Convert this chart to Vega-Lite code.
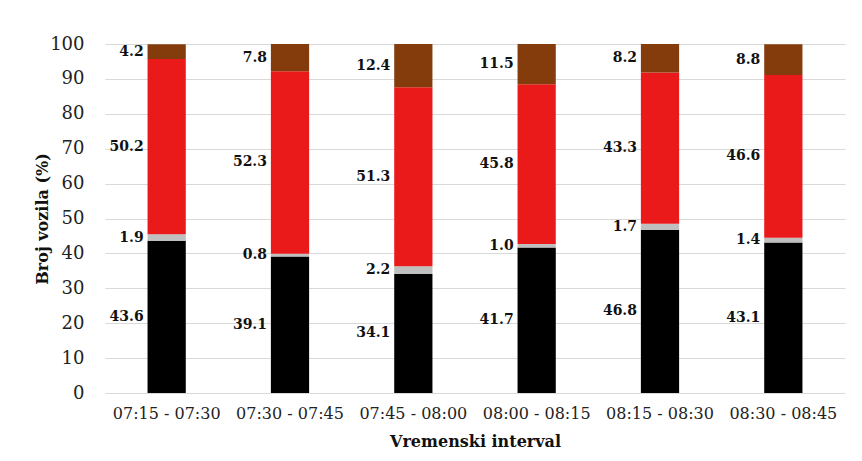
{
  "$schema": "https://vega.github.io/schema/vega-lite/v6.json",
  "autosize": "none",
  "width": 740,
  "height": 349,
  "padding": {"left": 105, "top": 44, "right": 17, "bottom": 68},
  "background": "white",
  "config": {
    "view": {"stroke": null},
    "font": "DejaVu Serif"
  },
  "data": {
    "values": [
      {"interval": "07:15 - 07:30", "kat": "A", "ord": 1, "v": 43.6},
      {"interval": "07:15 - 07:30", "kat": "B", "ord": 2, "v": 1.9},
      {"interval": "07:15 - 07:30", "kat": "C", "ord": 3, "v": 50.2},
      {"interval": "07:15 - 07:30", "kat": "D", "ord": 4, "v": 4.2},
      {"interval": "07:30 - 07:45", "kat": "A", "ord": 1, "v": 39.1},
      {"interval": "07:30 - 07:45", "kat": "B", "ord": 2, "v": 0.8},
      {"interval": "07:30 - 07:45", "kat": "C", "ord": 3, "v": 52.3},
      {"interval": "07:30 - 07:45", "kat": "D", "ord": 4, "v": 7.8},
      {"interval": "07:45 - 08:00", "kat": "A", "ord": 1, "v": 34.1},
      {"interval": "07:45 - 08:00", "kat": "B", "ord": 2, "v": 2.2},
      {"interval": "07:45 - 08:00", "kat": "C", "ord": 3, "v": 51.3},
      {"interval": "07:45 - 08:00", "kat": "D", "ord": 4, "v": 12.4},
      {"interval": "08:00 - 08:15", "kat": "A", "ord": 1, "v": 41.7},
      {"interval": "08:00 - 08:15", "kat": "B", "ord": 2, "v": 1.0},
      {"interval": "08:00 - 08:15", "kat": "C", "ord": 3, "v": 45.8},
      {"interval": "08:00 - 08:15", "kat": "D", "ord": 4, "v": 11.5},
      {"interval": "08:15 - 08:30", "kat": "A", "ord": 1, "v": 46.8},
      {"interval": "08:15 - 08:30", "kat": "B", "ord": 2, "v": 1.7},
      {"interval": "08:15 - 08:30", "kat": "C", "ord": 3, "v": 43.3},
      {"interval": "08:15 - 08:30", "kat": "D", "ord": 4, "v": 8.2},
      {"interval": "08:30 - 08:45", "kat": "A", "ord": 1, "v": 43.1},
      {"interval": "08:30 - 08:45", "kat": "B", "ord": 2, "v": 1.4},
      {"interval": "08:30 - 08:45", "kat": "C", "ord": 3, "v": 46.6},
      {"interval": "08:30 - 08:45", "kat": "D", "ord": 4, "v": 8.8}
    ]
  },
  "transform": [
    {"stack": "v", "groupby": ["interval"], "sort": [{"field": "ord", "order": "ascending"}], "as": ["y0", "y1"]},
    {"calculate": "(datum.y0 + datum.y1) / 2", "as": "mid"}
  ],
  "encoding": {
    "x": {
      "field": "interval",
      "type": "nominal",
      "sort": null,
      "scale": {"paddingInner": 0.69, "paddingOuter": 0.345},
      "axis": {
        "title": "Vremenski interval",
        "labelAngle": 0,
        "labelFont": "DejaVu Serif",
        "labelFontSize": 16,
        "labelColor": "#222222",
        "labelPadding": 12,
        "ticks": false,
        "domain": false,
        "titleFont": "DejaVu Serif",
        "titleFontSize": 16,
        "titleFontWeight": "bold",
        "titleColor": "#111111",
        "titlePadding": 12
      }
    }
  },
  "layer": [
    {
      "mark": {"type": "bar"},
      "encoding": {
        "y": {
          "field": "y0",
          "type": "quantitative",
          "scale": {"domain": [0, 100], "nice": false},
          "axis": {
            "title": "Broj vozila (%)",
            "values": [0, 10, 20, 30, 40, 50, 60, 70, 80, 90, 100],
            "grid": true,
            "gridColor": "#d9d9d9",
            "gridWidth": 1,
            "labelOverlap": false,
            "ticks": false,
            "domain": false,
            "labelFont": "DejaVu Serif",
            "labelFontSize": 18,
            "labelColor": "#222222",
            "labelPadding": 21,
            "titleFont": "DejaVu Serif",
            "titleFontSize": 16,
            "titleFontWeight": "bold",
            "titleColor": "#111111",
            "titleX": -63,
            "titleBaseline": "middle"
          }
        },
        "y2": {"field": "y1"},
        "color": {
          "field": "kat",
          "type": "nominal",
          "scale": {"domain": ["A", "B", "C", "D"], "range": ["#000000", "#bfbfbf", "#eb1a1a", "#843c0c"]},
          "legend": null
        }
      }
    },
    {
      "mark": {"type": "text", "align": "right", "baseline": "middle", "dx": -23, "font": "DejaVu Serif", "fontWeight": "bold", "fontSize": 14, "color": "#111111"},
      "encoding": {
        "y": {
          "field": "mid",
          "type": "quantitative",
          "scale": {"domain": [0, 100], "nice": false},
          "axis": {
            "title": "Broj vozila (%)",
            "values": [0, 10, 20, 30, 40, 50, 60, 70, 80, 90, 100],
            "grid": true,
            "gridColor": "#d9d9d9",
            "gridWidth": 1,
            "labelOverlap": false,
            "ticks": false,
            "domain": false,
            "labelFont": "DejaVu Serif",
            "labelFontSize": 18,
            "labelColor": "#222222",
            "labelPadding": 21,
            "titleFont": "DejaVu Serif",
            "titleFontSize": 16,
            "titleFontWeight": "bold",
            "titleColor": "#111111",
            "titleX": -63,
            "titleBaseline": "middle"
          }
        },
        "text": {"field": "v", "type": "quantitative", "format": ".1f"}
      }
    }
  ]
}
